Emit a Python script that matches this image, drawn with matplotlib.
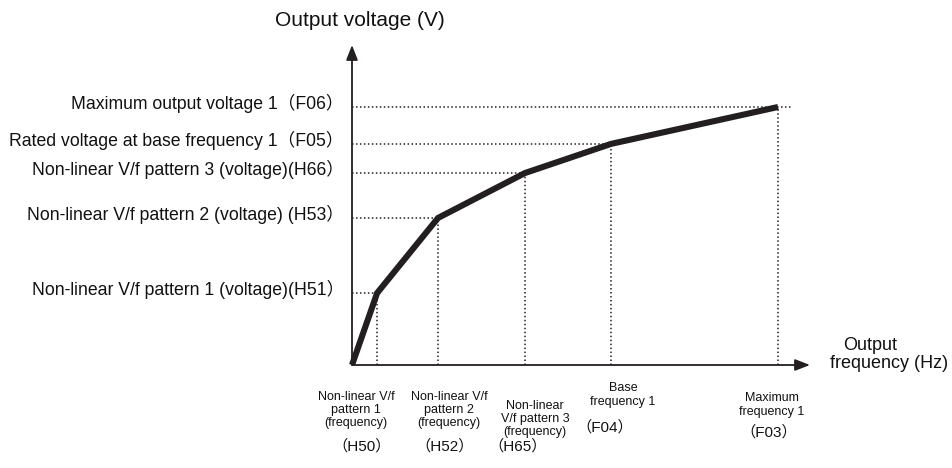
import matplotlib
matplotlib.use("Agg")
import matplotlib.pyplot as plt

# Data (frequency and voltage as % of maximum)
freq = [0, 5.9, 20.2, 40.6, 60.8, 100]
volt = [0, 27.9, 57.0, 74.4, 85.7, 100]

volt_labels = ["Non-linear V/f pattern 1 (voltage)", "Non-linear V/f pattern 2 (voltage)",
               "Non-linear V/f pattern 3 (voltage)", "Rated voltage at base frequency",
               "Maximum output voltage 1"]
volt_codes = ["(H51）", " (H53）", "(H66）", " 1（F05）", "（F06）"]

freq_labels = ["Non-linear V/f\npattern 1\n(frequency)", "Non-linear V/f\npattern 2\n(frequency)",
               "Non-linear\nV/f pattern 3\n(frequency)", "Base\nfrequency 1", "Maximum\nfrequency 1"]
freq_codes = ["（H50）", "（H52）", "（H65）", "（F04）", "（F03）"]

FAM = ['Liberation Sans', 'Noto Sans CJK JP', 'DejaVu Sans']
plt.rcParams['font.family'] = FAM

W, H = 953, 468
fig = plt.figure(figsize=(W / 100, H / 100), dpi=100)
ax = fig.add_axes([0, 0, 1, 1])
ax.axis('off')

# pixel -> data mapping: origin at (352, 365); 100% freq = 426 px, 100% volt = 258 px
x0, y0, sx, sy = 352, 365, 4.26, 2.58
ax.set_xlim((0 - x0) / sx, (W - x0) / sx)
ax.set_ylim((y0 - H) / sy, (y0 - 0) / sy)

ink = '#231f20'
txt = '#111111'
xmax_axis = (810 - x0) / sx
ymax_axis = (y0 - 45) / sy

# axes with arrows
ax.annotate('', xy=(xmax_axis, 0), xytext=(0, 0),
            arrowprops=dict(arrowstyle='-|>,head_length=0.9,head_width=0.35', lw=1.3, color=ink,
                            shrinkA=0, shrinkB=0))
ax.annotate('', xy=(0, ymax_axis), xytext=(0, 0),
            arrowprops=dict(arrowstyle='-|>,head_length=0.9,head_width=0.35', lw=1.3, color=ink,
                            shrinkA=0, shrinkB=0))

dot = dict(color=ink, lw=1.1, linestyle=(0, (1, 1.6)))
for i in range(1, len(freq)):
    xe = freq[i] if i < len(freq) - 1 else (792 - x0) / sx
    ax.plot([0, xe], [volt[i], volt[i]], **dot)
    ax.plot([freq[i], freq[i]], [0, volt[i]], **dot)

ax.plot(freq, volt, color=ink, lw=4.4, solid_capstyle='butt', solid_joinstyle='miter', zorder=5)

# left labels
xl = (344 - x0) / sx
for i in range(1, len(freq)):
    lab = volt_labels[i - 1] + volt_codes[i - 1]
    ax.text(xl, volt[i] + 1.2, lab, ha='right', va='center', fontsize=12.7, color=txt)

# bottom labels (pixel centres)
lab_pos = [(356, 410), (449, 410), (535, 419), (623, 395), (772, 405)]
code_pos = [(362, 446), (445, 446), (518, 446), (605, 427), (769, 432)]
for (px, py), t in zip(lab_pos, freq_labels):
    ax.text((px - x0) / sx, (y0 - py) / sy, t, ha='center', va='center', fontsize=9,
            linespacing=1.15, multialignment='center', color=txt)
for (px, py), t in zip(code_pos, freq_codes):
    ax.text((px - x0) / sx, (y0 - py) / sy, t, ha='center', va='center', fontsize=11,
            color=txt)

ax.text((360 - x0) / sx, (y0 - 20) / sy, "Output voltage (V)", ha='center', va='center',
        fontsize=15, color=txt)
ax.text((843 - x0) / sx, (y0 - 345) / sy, "Output", ha='left', va='center', fontsize=13,
        color=txt)
ax.text((830 - x0) / sx, (y0 - 363) / sy, "frequency (Hz)", ha='left', va='center', fontsize=13,
        color=txt)

fig.savefig('out.png', dpi=100)
